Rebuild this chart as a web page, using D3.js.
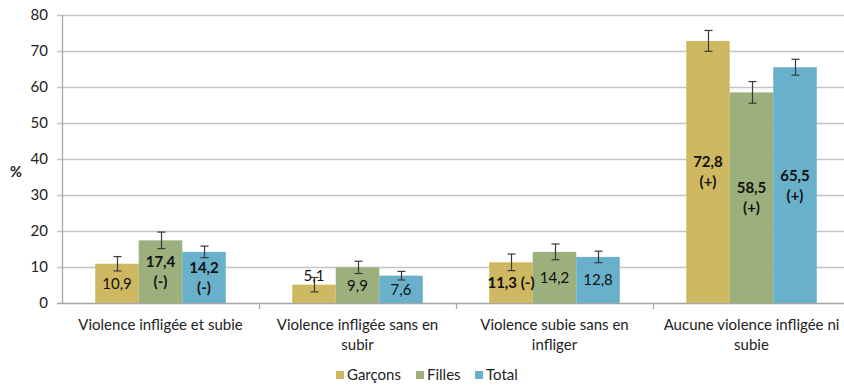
<!DOCTYPE html>
<html>
<head>
<meta charset="utf-8">
<script src="https://cdn.jsdelivr.net/npm/d3@7"></script>
<style>
  body { margin: 0; background: #fff; }
  svg { display: block; font-family: Lato, "Open Sans", sans-serif; }
</style>
</head>
<body>
<div id="chart"></div>
<script>
// Data
const categories = ["Violence infligée et subie", "Violence infligée sans en subir",
                    "Violence subie sans en infliger", "Aucune violence infligée ni subie"];
const categoryLines = [["Violence infligée et subie"], ["Violence infligée sans en", "subir"],
                       ["Violence subie sans en", "infliger"], ["Aucune violence infligée ni", "subie"]];
const series = ["Garçons", "Filles", "Total"];
const seriesColors = ["#CFB862", "#9CB07E", "#69B0CB"];
const garcons = [10.9, 5.1, 11.3, 72.8];
const filles = [17.4, 9.9, 14.2, 58.5];
const total = [14.2, 7.6, 12.8, 65.5];
const garconsErr = [2.0, 2.0, 2.3, 2.9];
const fillesErr = [2.3, 1.7, 2.2, 3.0];
const totalErr = [1.6, 1.2, 1.6, 2.2];
// significance flags shown next to labels
const garconsSig = ["", "", "(-)", "(+)"];
const fillesSig = ["(-)", "", "", "(+)"];
const totalSig = ["(-)", "", "", "(+)"];
const yTicks = [0, 10, 20, 30, 40, 50, 60, 70, 80];

document.addEventListener("DOMContentLoaded", function() {
  const width = 844, height = 385;
  const margin = {top: 15, left: 62, bottom: 82};
  const fs = 15;

  const values = [garcons, filles, total];
  const errs = [garconsErr, fillesErr, totalErr];
  const sigs = [garconsSig, fillesSig, totalSig];

  // flatten into one row per bar
  const bars = [];
  categories.forEach((c, i) => {
    series.forEach((s, j) => {
      bars.push({cat: c, ci: i, s: s, si: j, v: values[j][i], e: errs[j][i], sig: sigs[j][i]});
    });
  });

  const x0 = d3.scaleBand().domain(categories).range([margin.left, margin.left + 197 * 4]);
  const x1 = d3.scaleBand().domain(series).range([0, x0.bandwidth()]).paddingOuter(0.764);
  const y = d3.scaleLinear().domain([0, 80]).range([height - margin.bottom, margin.top]);

  const svg = d3.select("#chart").append("svg")
      .attr("width", width)
      .attr("height", height);

  // gridlines
  svg.append("g").selectAll("line")
    .data(yTicks)
    .enter().append("line")
      .attr("x1", margin.left - 5)
      .attr("x2", width)
      .attr("y1", d => Math.round(y(d)) + 0.5)
      .attr("y2", d => Math.round(y(d)) + 0.5)
      .attr("stroke", d => d === 0 ? "#a6a6a6" : "#c4c4c4")
      .attr("stroke-width", 1.3);

  // y axis line
  svg.append("line")
    .attr("x1", margin.left + 0.5).attr("x2", margin.left + 0.5)
    .attr("y1", y(80)).attr("y2", y(0))
    .attr("stroke", "#a6a6a6").attr("stroke-width", 1.3);

  // y tick labels
  svg.append("g").selectAll("text")
    .data(yTicks)
    .enter().append("text")
      .attr("x", margin.left - 14)
      .attr("y", d => y(d))
      .attr("dy", "0.36em")
      .attr("text-anchor", "end")
      .attr("font-size", fs)
      .attr("fill", "#222")
      .text(d => d);

  svg.append("text")
    .attr("x", 16).attr("y", y(36.5))
    .attr("dy", "0.36em")
    .attr("text-anchor", "middle")
    .attr("font-size", 14.5)
    .attr("font-weight", "bold")
    .attr("fill", "#222")
    .text("%");

  // category tick marks
  svg.append("g").selectAll("line")
    .data(categories.slice(1))
    .enter().append("line")
      .attr("x1", d => Math.round(x0(d)) + 0.5)
      .attr("x2", d => Math.round(x0(d)) + 0.5)
      .attr("y1", y(0)).attr("y2", y(0) + 6)
      .attr("stroke", "#a6a6a6").attr("stroke-width", 1.3);

  // bars
  svg.append("g").selectAll("rect")
    .data(bars)
    .enter().append("rect")
      .attr("x", d => x0(d.cat) + x1(d.s))
      .attr("y", d => y(d.v))
      .attr("width", x1.bandwidth())
      .attr("height", d => y(0) - y(d.v))
      .attr("fill", d => seriesColors[d.si]);

  // error bars
  const eb = svg.append("g").attr("stroke", "#3a3a3a").attr("stroke-width", 1.2);
  bars.forEach(d => {
    const cx = Math.round(x0(d.cat) + x1(d.s) + x1.bandwidth() / 2) + 0.5;
    eb.append("line").attr("x1", cx).attr("x2", cx).attr("y1", y(d.v + d.e)).attr("y2", y(d.v - d.e));
    eb.append("line").attr("x1", cx - 4).attr("x2", cx + 4).attr("y1", y(d.v + d.e)).attr("y2", y(d.v + d.e));
    eb.append("line").attr("x1", cx - 4).attr("x2", cx + 4).attr("y1", y(d.v - d.e)).attr("y2", y(d.v - d.e));
  });

  // value labels
  const fmt = v => d3.format(".1f")(v).replace(".", ",");
  const lab = svg.append("g").attr("font-size", fs).attr("fill", "#111").attr("text-anchor", "middle");
  bars.forEach(d => {
    const cx = x0(d.cat) + x1(d.s) + x1.bandwidth() / 2;
    const short = (y(0) - y(d.v)) < 25;
    let cy = short ? y(d.v) - 9 : (y(d.v) + y(0)) / 2;
    const t = lab.append("text")
      .attr("x", cx)
      .attr("font-weight", d.sig ? "bold" : "normal");
    // two lines when the bar is tall enough, otherwise one line
    if (d.sig && (y(0) - y(d.v)) > 45) {
      t.append("tspan").attr("x", cx).attr("y", cy - 10).attr("dy", "0.36em").text(fmt(d.v));
      t.append("tspan").attr("x", cx).attr("y", cy + 10).attr("dy", "0.36em").text(d.sig);
    } else {
      t.attr("y", cy).attr("dy", "0.36em").text(fmt(d.v) + (d.sig ? " " + d.sig : ""));
    }
  });

  // category labels
  svg.append("g").selectAll("text")
    .data(categories)
    .enter().append("text")
      .attr("x", d => x0(d) + x0.bandwidth() / 2)
      .attr("y", y(0) + 22)
      .attr("text-anchor", "middle")
      .attr("font-size", fs)
      .attr("fill", "#222")
      .each(function(d, i) {
        const t = d3.select(this);
        categoryLines[i].forEach((ln, k) => {
          t.append("tspan").attr("x", x0(d) + x0.bandwidth() / 2).attr("dy", k ? 20 : "0.36em").text(ln);
        });
      });

  // legend
  const legendX = [336, 416, 475];
  const lg = svg.append("g").attr("font-size", fs).attr("fill", "#222");
  series.forEach((s, j) => {
    lg.append("rect").attr("x", legendX[j]).attr("y", 371).attr("width", 8).attr("height", 8).attr("fill", seriesColors[j]);
    lg.append("text").attr("x", legendX[j] + 11).attr("y", 375).attr("dy", "0.36em").text(s);
  });
});
</script>
</body>
</html>
